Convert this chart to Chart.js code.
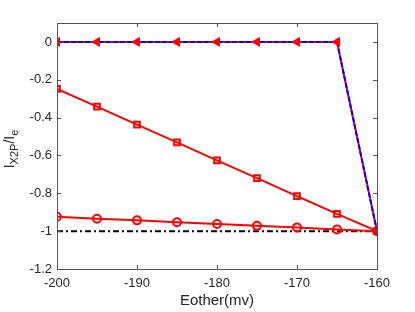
<!DOCTYPE html>
<html>
<head>
<title>Ix2p ratio</title>
<style>
  body { margin: 0; background: #fff; }
  #wrap { width: 415px; height: 312px; }
</style>
</head>
<body>
<div id="wrap"><canvas id="myChart" width="415" height="312"></canvas></div>
<script src="https://cdn.jsdelivr.net/npm/chart.js"></script>
<script>
const eother = [-200, -195, -190, -185, -180, -175, -170, -165, -160];
const triVals = [0, 0, 0, 0, 0, 0, 0, 0, -1];
const squareVals = [-0.248, -0.342, -0.437, -0.531, -0.626, -0.72, -0.815, -0.909, -1.0];
const circleVals = [-0.924, -0.934, -0.943, -0.953, -0.962, -0.972, -0.981, -0.991, -1.0];
const refVals = [-1, -1, -1, -1, -1, -1, -1, -1, -1];
const xTicks = [-200, -190, -180, -170, -160];
const yTicks = [0, -0.2, -0.4, -0.6, -0.8, -1, -1.2];

const FONT = "'Liberation Sans', Arial, Helvetica, sans-serif";
const pts = vals => eother.map((x, i) => ({x: x, y: vals[i]}));

// box + inward ticks, matlab style
const boxPlugin = {
  id: 'box',
  afterDraw(chart) {
    const {ctx, chartArea: a, scales} = chart;
    ctx.save();
    ctx.strokeStyle = '#555';
    ctx.lineWidth = 1;
    ctx.strokeRect(a.left + 0.5, a.top + 0.5, a.right - a.left, a.bottom - a.top);
    ctx.beginPath();
    xTicks.forEach(v => {
      const px = Math.round(scales.x.getPixelForValue(v)) + 0.5;
      ctx.moveTo(px, a.bottom); ctx.lineTo(px, a.bottom - 4);
      ctx.moveTo(px, a.top); ctx.lineTo(px, a.top + 4);
    });
    yTicks.forEach(v => {
      const py = Math.round(scales.y.getPixelForValue(v)) + 0.5;
      ctx.moveTo(a.left, py); ctx.lineTo(a.left + 4, py);
      ctx.moveTo(a.right, py); ctx.lineTo(a.right - 4, py);
    });
    ctx.stroke();

    // y title with subscripts: I_X2P / I_e
    const parts = [['I', 14, 0], ['X2P', 11, 4], ['/I', 14, 0], ['e', 11, 4]];
    let total = 0;
    parts.forEach(p => { ctx.font = p[1] + 'px ' + FONT; total += ctx.measureText(p[0]).width; });
    ctx.translate(14, 149);
    ctx.rotate(-Math.PI / 2);
    ctx.fillStyle = '#262626';
    ctx.textBaseline = 'alphabetic';
    let cx = -total / 2;
    parts.forEach(p => {
      ctx.font = p[1] + 'px ' + FONT;
      ctx.fillText(p[0], cx, p[2]);
      cx += ctx.measureText(p[0]).width;
    });
    ctx.restore();
  }
};

new Chart(document.getElementById('myChart'), {
  type: 'line',
  data: {
    // first dataset is drawn on top
    datasets: [
      {
        // triangle markers only, above the dashed line
        data: pts(triVals), showLine: false,
        pointStyle: 'triangle', pointRotation: -90, pointRadius: 5,
        pointBackgroundColor: '#ff0000', pointBorderColor: '#ff0000', pointBorderWidth: 1
      },
      {
        data: pts(triVals), borderColor: '#0000ff', borderWidth: 2,
        borderDash: [5, 2], pointRadius: 0
      },
      {
        data: pts(triVals), borderColor: '#ff0000', borderWidth: 2, pointRadius: 0
      },
      {
        data: pts(squareVals), borderColor: '#ff0000', borderWidth: 2,
        pointStyle: 'rect', pointRadius: 4, pointBorderWidth: 2,
        pointBackgroundColor: 'rgba(0,0,0,0)', pointBorderColor: '#ff0000'
      },
      {
        data: pts(circleVals), borderColor: '#ff0000', borderWidth: 2,
        pointStyle: 'circle', pointRadius: 4, pointBorderWidth: 2,
        pointBackgroundColor: 'rgba(0,0,0,0)', pointBorderColor: '#ff0000'
      },
      {
        data: pts(refVals), borderColor: '#000', borderWidth: 2,
        borderDash: [6, 3, 2, 3], pointRadius: 0
      }
    ]
  },
  options: {
    responsive: false,
    animation: false,
    events: [],
    layout: { padding: { left: 0, top: 23, right: 38, bottom: 2 } },
    plugins: { legend: { display: false }, tooltip: { enabled: false } },
    scales: {
      x: {
        type: 'linear', min: -200, max: -160,
        afterBuildTicks: s => { s.ticks = xTicks.map(v => ({value: v})); },
        afterFit: s => { s.height = 41; },
        grid: { display: false, drawTicks: false },
        border: { display: false },
        ticks: { color: '#262626', font: { family: FONT, size: 13 }, padding: 7, maxRotation: 0 },
        title: { display: true, text: 'Eother(mv)', color: '#262626', font: { family: FONT, size: 15 }, padding: { top: 0, bottom: 0 } }
      },
      y: {
        type: 'linear', min: -1.2, max: 0.1,
        afterBuildTicks: s => { s.ticks = yTicks.map(v => ({value: v})); },
        afterFit: s => { s.width = 57; },
        grid: { display: false, drawTicks: false },
        border: { display: false },
        ticks: {
          color: '#262626', font: { family: FONT, size: 13 }, padding: 5,
          callback: v => String(Math.round(v * 10) / 10)
        }
      }
    }
  },
  plugins: [boxPlugin]
});
</script>
</body>
</html>
